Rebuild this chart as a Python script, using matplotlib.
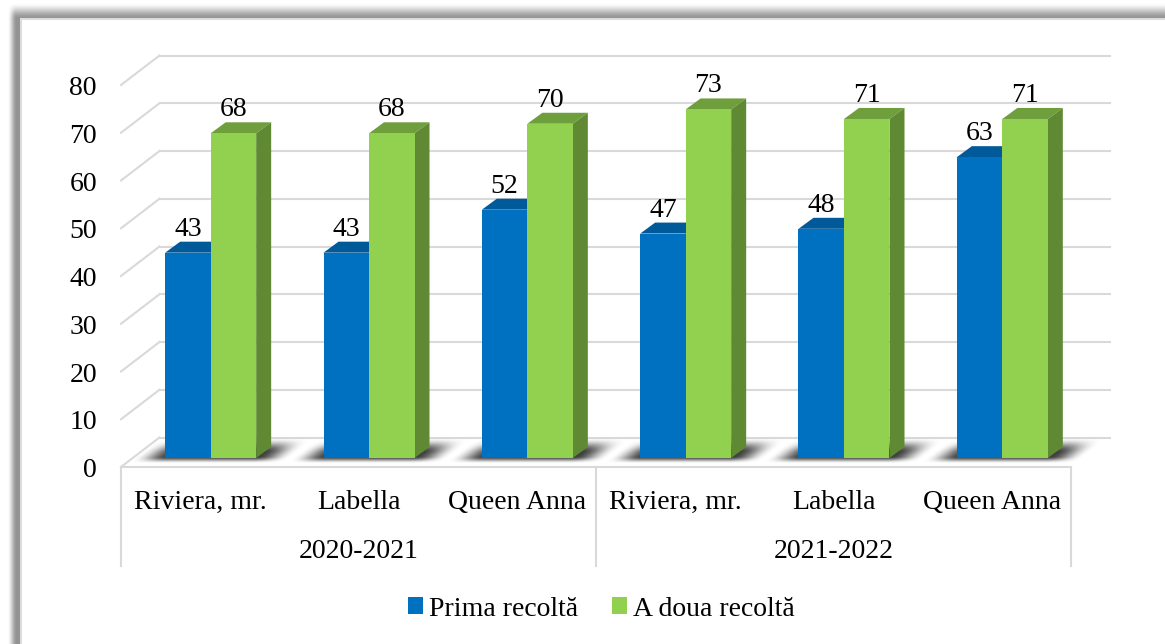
import numpy as np
import matplotlib
matplotlib.use("Agg")
import matplotlib.pyplot as plt
from matplotlib.patches import Polygon, Patch
from matplotlib.transforms import Affine2D, IdentityTransform

plt.rcParams["font.family"] = ["Liberation Serif", "DejaVu Serif"]

W, H = 1165, 644

soiuri = ["Riviera, mr.", "Labella", "Queen Anna", "Riviera, mr.", "Labella", "Queen Anna"]
ani = ["2020-2021", "2021-2022"]
prima = [43, 43, 52, 47, 48, 63]
adoua = [68, 68, 70, 73, 71, 71]
y_ticks = [0, 10, 20, 30, 40, 50, 60, 70, 80]
serii = ["Prima recoltă", "A doua recoltă"]

BLUE, BLUE_TOP, BLUE_SIDE = "#0070C0", "#005A9A", "#004F88"
GREEN, GREEN_TOP, GREEN_SIDE = "#92D050", "#6F9E3D", "#5F8A33"
GRID = "#D9D9D9"

fig = plt.figure(figsize=(W / 100, H / 100), dpi=100, facecolor="white")


def smooth(t):
    t = np.clip(t, 0, 1)
    return t * t * (3 - 2 * t)


# cornice con ombra
bg = fig.add_axes([0, 0, 1, 1], zorder=0)
yy, xx = np.mgrid[0:H, 0:W]
frame = 1 - 0.42 * smooth((xx - 7) / 9) * smooth((yy - 2) / 16)
frame[(xx >= 20) & (yy >= 18)] = 0.86
frame[(xx >= 22) & (yy >= 20)] = 1.0
bg.imshow(frame, cmap="gray", vmin=0, vmax=1, aspect="auto", extent=(0, W, H, 0), interpolation="bilinear")
bg.axis("off")

# assi: y=0 sulla base frontale delle barre
ax = fig.add_axes([121 / W, (H - 458) / H, 950 / W, 382 / H], zorder=1)
ax.patch.set_alpha(0)
ax.set_xlim(-0.5, 5.5)
ax.set_ylim(0, 80)
ax.axis("off")


def shift(dx, dy):
    # spostamento in pixel, dy positivo verso il basso
    return ax.transData + Affine2D().translate(dx, -dy)


def pts(x, v, dx=0, dy=0):
    p = ax.transData.transform((x, v))
    return (p[0] + dx, p[1] - dy)


x = np.arange(len(soiuri))
w = 45.5 / (950 / 6)
BAR_DX = 10.5
DEPTH_X, DEPTH_Y = 15, 11
IDENT = IdentityTransform()

# griglia sulla parete di fondo e diagonali a sinistra
for v in y_ticks:
    ax.plot([-0.5, 5.5], [v, v], color=GRID, lw=1.5, transform=shift(38.5, -20.5), clip_on=False, zorder=1)
    a, b = pts(-0.5, v, 0, 9), pts(-0.5, v, 38.5, -20.5)
    ax.plot([a[0], b[0]], [a[1], b[1]], color=GRID, lw=1.5, transform=IDENT, clip_on=False, zorder=1)

# ombre sul pavimento
for xi in x:
    c = pts(xi, 0, BAR_DX)[0]
    ox0, ox1 = int(c - 90), int(c + 110)
    py, px = np.mgrid[432:466, ox0:ox1]
    base_y = H - ax.transData.transform((0, 0))[1]
    u = px - (base_y - py) * 1.29 - c
    e_u = smooth((u + 78) / 34) * smooth((78 - u) / 34)
    e_v = smooth((py - 437) / 15) * smooth((463 - py) / 7)
    rgba = np.zeros(py.shape + (4,))
    rgba[..., :3] = 0.2
    rgba[..., 3] = e_u * e_v * 0.95
    (x0, y0), (x1, y1) = ax.transData.inverted().transform([(ox0, H - 466), (ox1, H - 432)])
    ax.imshow(rgba, extent=(x0, x1, y0, y1), origin="upper", aspect="auto", zorder=1.5, clip_on=False,
              interpolation="bilinear")
ax.set_xlim(-0.5, 5.5)
ax.set_ylim(0, 80)

# barre finte 3D
tr = shift(BAR_DX, 0)
for vals, off, col, top, side, z in [(prima, -w / 2, BLUE, BLUE_TOP, BLUE_SIDE, 2),
                                     (adoua, w / 2, GREEN, GREEN_TOP, GREEN_SIDE, 3)]:
    ax.bar(x + off, vals, w, color=col, transform=tr, zorder=z + 0.2, clip_on=False)
    for xi, v in zip(x + off, vals):
        l, r = xi - w / 2, xi + w / 2
        ax.add_patch(Polygon([pts(l, v, BAR_DX), pts(r, v, BAR_DX), pts(r, v, BAR_DX + DEPTH_X, -DEPTH_Y),
                              pts(l, v, BAR_DX + DEPTH_X, -DEPTH_Y)],
                             closed=True, fc=top, ec="none", transform=IDENT, zorder=z, clip_on=False))
        ax.add_patch(Polygon([pts(r, 0, BAR_DX), pts(r, v, BAR_DX), pts(r, v, BAR_DX + DEPTH_X, -DEPTH_Y),
                              pts(r, 0, BAR_DX + DEPTH_X, -DEPTH_Y)],
                             closed=True, fc=side, ec="none", transform=IDENT, zorder=z, clip_on=False))
    for xi, v in zip(x + off, vals):
        ax.text(xi, v, str(v), ha="center", va="baseline", fontsize=20, color="black", zorder=5,
                transform=shift(BAR_DX, -17), clip_on=False)

# etichette asse y
for v in y_ticks:
    ax.text(-0.5, v, str(v), ha="right", va="baseline", fontsize=20, color="black",
            transform=shift(-24, 19), clip_on=False)

# asse categorie a due livelli
ax.plot([-0.5, 5.5], [0, 0], color=GRID, lw=1.5, transform=shift(0, 9), clip_on=False, zorder=1)
for xv in [-0.5, 2.5, 5.5]:
    a, b = pts(xv, 0, 0, 9), pts(xv, 0, 0, 108)
    ax.plot([a[0], b[0]], [a[1], b[1]], color=GRID, lw=1.5, transform=IDENT, clip_on=False, zorder=1)
for xi, nome in zip(x, soiuri):
    ax.text(xi, 0, nome, ha="center", va="baseline", fontsize=20, color="black",
            transform=shift(0, 51), clip_on=False)
for xi, an in zip([1, 4], ani):
    ax.text(xi, 0, an, ha="center", va="baseline", fontsize=20, color="black",
            transform=shift(0, 100), clip_on=False)

handles = [Patch(fc=BLUE, label=serii[0]), Patch(fc=GREEN, label=serii[1])]
fig.legend(handles=handles, loc="center", bbox_to_anchor=(601.5 / W, (H - 609) / H), ncol=2, frameon=False,
           fontsize=20, handlelength=0.54, handleheight=0.54, handletextpad=0.22, columnspacing=1.2,
           borderpad=0, borderaxespad=0)

fig.savefig("out.png", dpi=100)
